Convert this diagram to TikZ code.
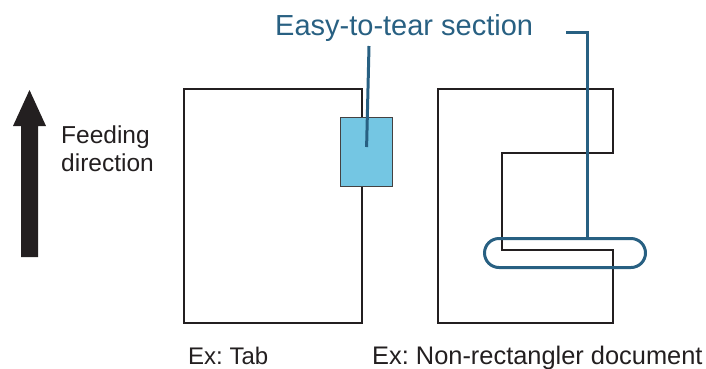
\documentclass[tikz,border=0pt]{standalone}
\usepackage{fontspec}
\setmainfont{Liberation Sans}
\frenchspacing
\definecolor{leadblue}{RGB}{40,96,130}
\definecolor{tabfill}{RGB}{116,198,227}
\definecolor{inkblack}{RGB}{35,31,32}
\begin{document}
\begin{tikzpicture}[x=1pt,y=-1pt,
  outline/.style={draw=inkblack,line width=2pt},
  leader/.style={draw=leadblue,line width=3pt},
  lbl/.style={inner sep=0pt,text=inkblack,font=\fontsize{24.5}{27.5}\selectfont},
  feedarrow/.style={fill=inkblack}]
\useasboundingbox (0,0) rectangle (706,368);
% feeding arrow
\fill[feedarrow] (29.5,90) -- (46,126) -- (38,126) -- (38,257) -- (21,257) -- (21,126) -- (13,126) -- cycle;
\node[lbl,anchor=north west,align=left] (feed) at (61,126) {Feeding\\direction};
% left document with tab
\node[outline,minimum width=178pt,minimum height=234pt,inner sep=0pt,anchor=north west] (doc1) at (183,88) {};
\node[draw=inkblack!85,line width=1.2pt,fill=tabfill,minimum width=52pt,minimum height=69pt,inner sep=0pt,anchor=north west] (tab) at (340,117) {};
% right non-rectangular document
\draw[outline,line join=miter] (438,89) -- (613,89) -- (613,153) -- (502,153) -- (502,250) -- (613,250) -- (613,323) -- (438,323) -- cycle;
\node[draw=leadblue,line width=3pt,rounded corners=14.5pt,minimum width=161pt,minimum height=29pt,inner sep=0pt,anchor=north west] (pill) at (483,237) {};
% label and leaders
\node[inner sep=0pt,anchor=base west,text=leadblue,font=\fontsize{29}{34}\selectfont] (easy) at (275,35) {Easy-to-tear section};
\coordinate (l1) at (369,46);
\draw[leader] (l1) -- (tab.center |- 0,147);
\coordinate (r1) at (566,32);
\draw[leader] (r1) -- (587,32) -- (pill.north -| 587,0);
% captions
\node[inner sep=0pt,text=inkblack,font=\fontsize{24}{27}\selectfont,anchor=base west] (cap1) at (188,364) {Ex: Tab};
\node[inner sep=0pt,text=inkblack,font=\fontsize{25.4}{28}\selectfont,anchor=base west] (cap2) at (372,364) {Ex: Non-rectangler document};
\end{tikzpicture}
\end{document}
